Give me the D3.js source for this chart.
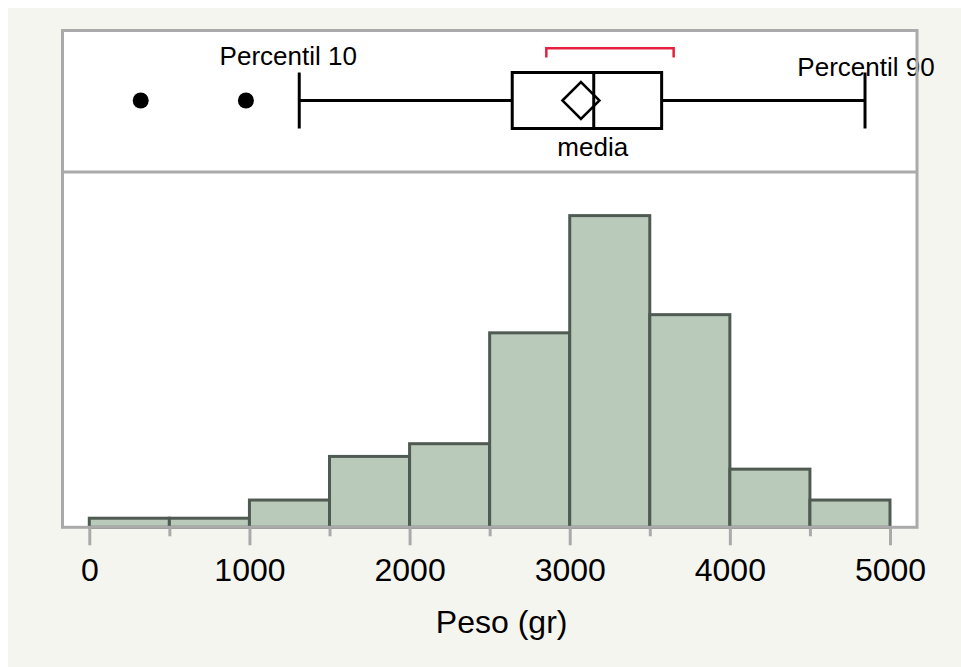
<!DOCTYPE html>
<html>
<head>
<meta charset="utf-8">
<script src="https://cdn.jsdelivr.net/npm/d3@7"></script>
<style>
  body { margin: 0; background: #ffffff; }
  svg { display: block; font-family: Arial, "Liberation Sans", Helvetica, sans-serif; }
</style>
</head>
<body>
<svg width="961" height="667"></svg>
<script>
//chart size
const SVG_WIDTH = 961;
const SVG_HEIGHT = 667;

//histogram bins (left edge of each 500 gr bin) and their heights
var binStarts = [0, 500, 1000, 1500, 2000, 2500, 3000, 3500, 4000, 4500];
var binWidth = 500;
var counts = [1, 1, 3, 7.8, 9.2, 21.4, 34.3, 23.4, 6.4, 3.0];

//box plot values
var whiskers = [1311, 4844];          //percentil 10 and 90
var quartiles = [2641, 3150, 3574];   //q1, median, q3
var meanValue = 3070;
var outliers = [321, 978];
var shortestHalf = [2854, 3649];

//axis ticks
var majorTicks = [0, 1000, 2000, 3000, 4000, 5000];
var minorTicks = [500, 1500, 2500, 3500, 4500];

//frame geometry
var frame = {left: 62.5, right: 917, top: 30.5, split: 172, bottom: 527.3};

var svg = d3.select('svg');

//beige background panel
svg.append('rect')
   .attr('x', 8).attr('y', 8)
   .attr('width', SVG_WIDTH - 8).attr('height', SVG_HEIGHT - 8)
   .attr('fill', '#f5f5f0');

//white plot area
svg.append('rect')
   .attr('x', frame.left).attr('y', frame.top)
   .attr('width', frame.right - frame.left).attr('height', frame.bottom - frame.top)
   .attr('fill', '#ffffff');

//scales
var x = d3.scaleLinear()
          .domain([0, 5000])
          .range([89.3, 890]);

var y = d3.scaleLinear()
          .domain([0, 39.1])
          .range([frame.bottom, frame.split]);

//histogram bars
svg.append('g')
   .selectAll('rect')
   .data(counts)
   .enter()
   .append('rect')
     .attr('x', function(d, i) { return x(binStarts[i]); })
     .attr('y', function(d) { return y(d); })
     .attr('width', function(d, i) { return x(binStarts[i] + binWidth) - x(binStarts[i]); })
     .attr('height', function(d) { return y(0) - y(d); })
     .attr('fill', '#b9cabb')
     .attr('stroke', '#4f5a52')
     .attr('stroke-width', 3);

//box plot
var cy = 100.5;   //centre line of the box plot panel
var boxHalf = 28;
var box = svg.append('g').attr('stroke', '#000').attr('stroke-width', 3).attr('fill', 'none');

//whisker lines
box.append('line')
   .attr('x1', x(whiskers[0])).attr('x2', x(quartiles[0]))
   .attr('y1', cy).attr('y2', cy);
box.append('line')
   .attr('x1', x(quartiles[2])).attr('x2', x(whiskers[1]))
   .attr('y1', cy).attr('y2', cy);

//whisker caps
box.selectAll('.cap')
   .data(whiskers)
   .enter()
   .append('line')
     .attr('class', 'cap')
     .attr('x1', function(d) { return x(d); })
     .attr('x2', function(d) { return x(d); })
     .attr('y1', cy - boxHalf).attr('y2', cy + boxHalf);

//the box and the median
box.append('rect')
   .attr('x', x(quartiles[0])).attr('y', cy - boxHalf)
   .attr('width', x(quartiles[2]) - x(quartiles[0]))
   .attr('height', 2 * boxHalf);
box.append('line')
   .attr('x1', x(quartiles[1])).attr('x2', x(quartiles[1]))
   .attr('y1', cy - boxHalf).attr('y2', cy + boxHalf);

//mean diamond
var dh = 18.5;
box.append('path')
   .attr('d', 'M' + (x(meanValue) - dh) + ',' + cy +
              'L' + x(meanValue) + ',' + (cy - dh) +
              'L' + (x(meanValue) + dh) + ',' + cy +
              'L' + x(meanValue) + ',' + (cy + dh) + 'Z')
   .attr('stroke-width', 2.5);

//outliers
svg.selectAll('.outlier')
   .data(outliers)
   .enter()
   .append('circle')
     .attr('class', 'outlier')
     .attr('cx', function(d) { return x(d); })
     .attr('cy', cy)
     .attr('r', 8)
     .attr('fill', '#000');

//shortest half bracket
svg.append('path')
   .attr('d', 'M' + x(shortestHalf[0]) + ',57.5V48.3H' + x(shortestHalf[1]) + 'V57.5')
   .attr('fill', 'none')
   .attr('stroke', '#e8203f')
   .attr('stroke-width', 2.5);

//box plot labels
svg.append('text')
   .attr('x', x(whiskers[0]) - 11).attr('y', 65)
   .attr('text-anchor', 'middle')
   .attr('font-size', 26)
   .text('Percentil 10');
svg.append('text')
   .attr('x', x(whiskers[1]) + 1).attr('y', 75.5)
   .attr('text-anchor', 'middle')
   .attr('font-size', 26)
   .text('Percentil 90');
svg.append('text')
   .attr('x', x(quartiles[1]) - 1).attr('y', 156)
   .attr('text-anchor', 'middle')
   .attr('font-size', 26)
   .text('media');

//frame lines drawn on top of the bars
var border = svg.append('g').attr('stroke', '#aaaaaa').attr('stroke-width', 3).attr('fill', 'none');
border.append('rect')
   .attr('x', frame.left).attr('y', frame.top)
   .attr('width', frame.right - frame.left).attr('height', frame.bottom - frame.top);
border.append('line')
   .attr('x1', frame.left).attr('x2', frame.right)
   .attr('y1', frame.split).attr('y2', frame.split);

//x axis, major ticks with labels
var xAxis = svg.append('g')
   .attr('transform', 'translate(0,' + frame.bottom + ')')
   .call(d3.axisBottom(x)
           .tickValues(majorTicks)
           .tickFormat(d3.format('d'))
           .tickSize(18)
           .tickPadding(13));
//minor ticks
var xMinor = svg.append('g')
   .attr('transform', 'translate(0,' + frame.bottom + ')')
   .call(d3.axisBottom(x)
           .tickValues(minorTicks)
           .tickFormat('')
           .tickSize(9));

svg.selectAll('.domain').remove();
svg.selectAll('.tick line').attr('stroke', '#aaaaaa').attr('stroke-width', 3);
xAxis.selectAll('.tick text')
     .attr('font-size', 32)
     .attr('font-family', 'Arial, "Liberation Sans", sans-serif')
     .attr('fill', '#000');

//axis label
svg.append('text')
   .attr('x', (x(0) + x(5000)) / 2 + 12)
   .attr('y', 633)
   .attr('text-anchor', 'middle')
   .attr('font-size', 32)
   .text('Peso (gr)');
</script>
</body>
</html>
